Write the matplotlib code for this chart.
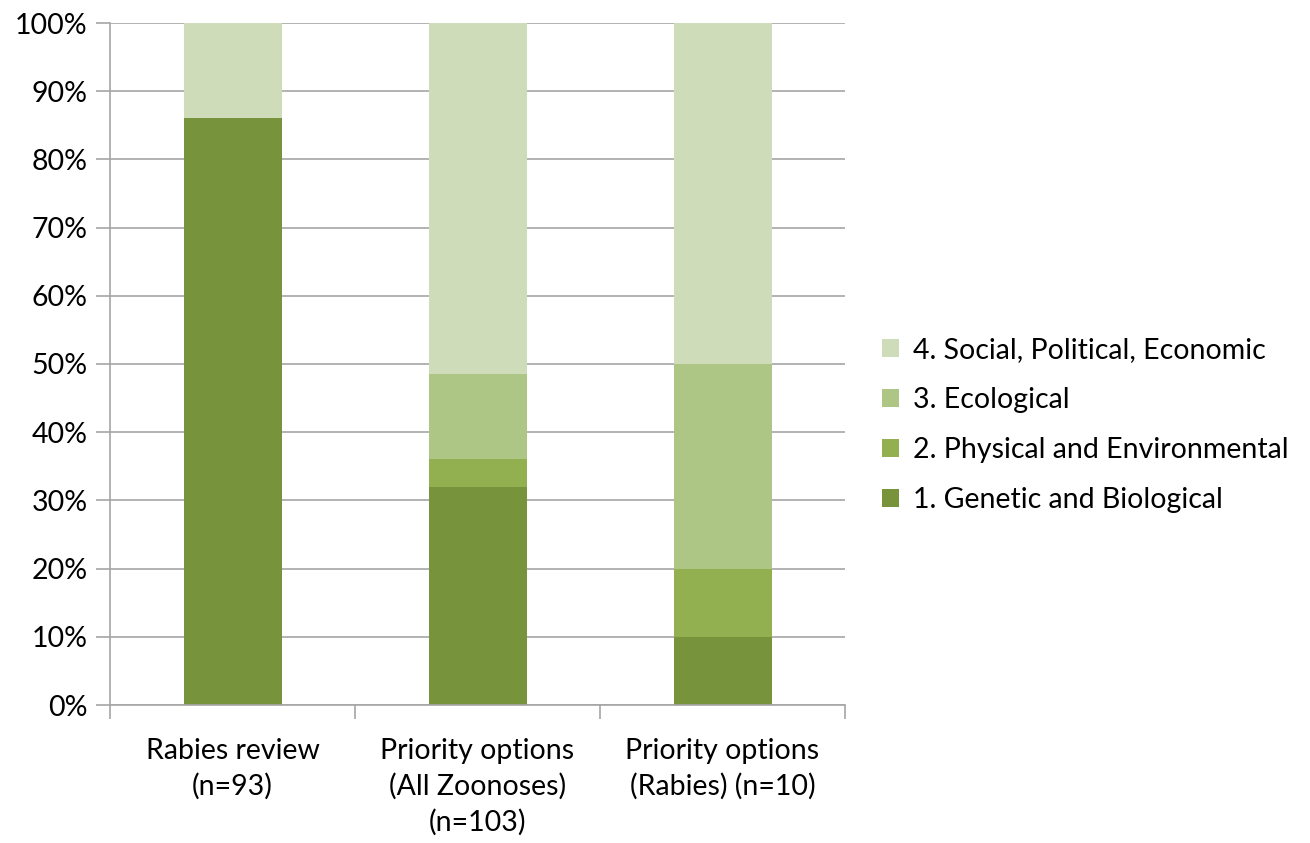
import matplotlib
matplotlib.use("Agg")
import matplotlib.pyplot as plt
import numpy as np

categories = ["Rabies review\n(n=93)", "Priority options\n(All Zoonoses)\n(n=103)", "Priority options\n(Rabies) (n=10)"]
series_names = ["1. Genetic and Biological", "2. Physical and Environmental", "3. Ecological", "4. Social, Political, Economic"]
genetic = [86, 32, 10]
physical = [0, 4, 10]
ecological = [0, 12.5, 30]
social = [14, 51.5, 50]
colors = ["#77933C", "#92B050", "#AEC685", "#CEDCB9"]

plt.rcParams['font.family'] = ['Lato', 'DejaVu Sans']
FS = 20.5

fig = plt.figure(figsize=(13.1, 8.43), dpi=100)
ax = fig.add_axes([110/1310, 1-705/843, (845-110)/1310, (705-23)/843])

x = np.arange(len(categories))
bottom = np.zeros(len(categories))
handles = []
for vals, name, c in zip([genetic, physical, ecological, social], series_names, colors):
    h = ax.bar(x, vals, width=0.4, bottom=bottom, color=c, label=name, zorder=2)
    handles.append(h)
    bottom += np.array(vals)

ax.set_xlim(-0.5, 2.5)
ax.set_ylim(0, 100)
ax.set_yticks(np.arange(0, 101, 10))
ax.set_yticklabels([f"{v}%" for v in range(0, 101, 10)], fontsize=FS)
ax.yaxis.grid(True, color="#A6A6A6", linewidth=1.2, zorder=0)
ax.set_axisbelow(True)

ax.set_xticks([-0.5, 0.5, 1.5, 2.5])
ax.set_xticklabels([])
ax.set_xticks(x, minor=True)
ax.set_xticklabels(categories, minor=True, fontsize=FS, linespacing=1.4)
ax.tick_params(axis='x', which='minor', length=0, pad=24)
ax.tick_params(axis='x', which='major', length=10, color="#A6A6A6", width=1.2)
ax.tick_params(axis='y', length=10, color="#A6A6A6", width=1.2, pad=6)

for s in ["top", "right"]:
    ax.spines[s].set_visible(False)
for s in ["left", "bottom"]:
    ax.spines[s].set_color("#A6A6A6")
    ax.spines[s].set_linewidth(1.2)

leg = fig.legend(handles[::-1], series_names[::-1], loc="center left",
                 bbox_to_anchor=(856/1310, 1-425/843), frameon=False, fontsize=FS,
                 handlelength=0.6, handleheight=0.6, handletextpad=0.5, labelspacing=0.85)

fig.savefig("out.png", dpi=100)
